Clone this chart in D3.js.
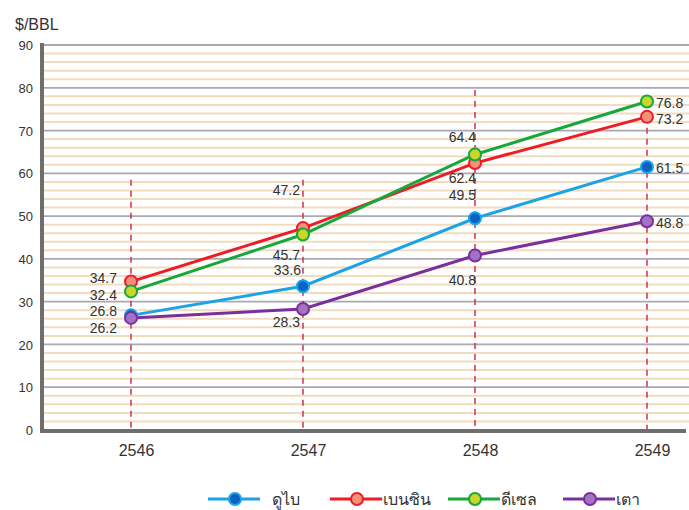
<!DOCTYPE html>
<html>
<head>
<meta charset="utf-8">
<script src="https://cdn.jsdelivr.net/npm/d3@7"></script>
<style>
  html, body { margin: 0; padding: 0; background: #fff; }
  svg { display: block; font-family: "Liberation Sans", Arial, "Noto Sans", sans-serif; }
</style>
</head>
<body>
<svg id="chart" width="689" height="510"></svg>
<script>
// Crude oil and product prices, $/BBL, by Thai fiscal year
const years = ["2546", "2547", "2548", "2549"];
const seriesNames = ["ดูไบ", "เบนซิน", "ดีเซล", "เตา"];
const dubai    = [26.8, 33.6, 49.5, 61.5];
const gasoline = [34.7, 47.2, 62.4, 73.2];
const diesel   = [32.4, 45.7, 64.4, 76.8];
const fuelOil  = [26.2, 28.3, 40.8, 48.8];
const yTicks = [0, 10, 20, 30, 40, 50, 60, 70, 80, 90];
// upper end (in $/BBL) of the dashed guide at each year
const guideTop = [58.5, 58.5, 79.5, 73.2];

const seriesValues = [dubai, gasoline, diesel, fuelOil];
const lineColors   = ["#1aa3e6", "#ee1c25", "#16a83a", "#7b2f9e"];
const markerFills  = ["#0a62c4", "#f2907a", "#c9d62a", "#a472c4"];

// value label offsets [dx, dy, anchor] per series, per year
const labelLayout = [
  [[-14, -4, "end"], [-2, -16, "end"], [1, -23, "end"], [9, 1, "start"]],
  [[-14, -3, "end"], [-3, -38, "end"], [1, 15, "end"], [9, 2, "start"]],
  [[-14, 4, "end"],  [-3, 21, "end"],  [1, -17, "end"], [9, 2, "start"]],
  [[-14, 10, "end"], [-3, 13, "end"],  [1, 25, "end"], [9, 2, "start"]]
];

const svg = d3.select("#chart");
const plotLeft = 42, plotRight = 689, plotTop = 45, plotBottom = 430;

const x = d3.scalePoint().domain(years).range([131, 647]);
const y = d3.scaleLinear().domain([0, 90]).range([plotBottom, plotTop]);

// minor grid every 2 units
const minor = d3.range(2, 90, 2).filter(v => v % 10 !== 0);
svg.append("g").selectAll("line").data(minor).join("line")
  .attr("x1", plotLeft).attr("x2", plotRight)
  .attr("y1", d => y(d)).attr("y2", d => y(d))
  .attr("stroke", "#f1dcbd").attr("stroke-width", 2);

// major grid
svg.append("g").selectAll("line").data(yTicks.filter(v => v > 0)).join("line")
  .attr("x1", plotLeft).attr("x2", plotRight)
  .attr("y1", d => y(d)).attr("y2", d => y(d))
  .attr("stroke", "#a9a9b0").attr("stroke-width", 1.8);

// y axis labels
const yAxis = d3.axisLeft(y).tickValues(yTicks).tickSize(0).tickPadding(0);
const gy = svg.append("g").attr("transform", "translate(33,0)").call(yAxis);
gy.select(".domain").remove();
gy.selectAll("text").attr("font-size", 13).attr("fill", "#333").attr("dy", "0.35em");

// unit title
svg.append("text").attr("x", 15).attr("y", 30)
  .attr("font-size", 16).attr("fill", "#333").text("$/BBL");

// dashed year guides
svg.append("g").selectAll("line").data(years).join("line")
  .attr("x1", d => x(d)).attr("x2", d => x(d))
  .attr("y1", (d, i) => y(guideTop[i])).attr("y2", plotBottom)
  .attr("stroke", "#d0304f").attr("stroke-width", 1.5)
  .attr("stroke-dasharray", "6,5");

// axis frame
svg.append("line").attr("x1", plotLeft).attr("x2", plotLeft).attr("y1", plotTop - 2).attr("y2", plotBottom + 3)
  .attr("stroke", "#6e6e6e").attr("stroke-width", 4);
svg.append("line").attr("x1", plotLeft - 2).attr("x2", 686).attr("y1", plotBottom + 1).attr("y2", plotBottom + 1)
  .attr("stroke", "#6e6e6e").attr("stroke-width", 4);

// x axis labels
const xAxis = d3.axisBottom(x).tickSize(0).tickPadding(0);
const gx = svg.append("g").attr("transform", `translate(5,${plotBottom + 20})`).call(xAxis);
gx.select(".domain").remove();
gx.selectAll("text").attr("font-size", 16).attr("fill", "#333").attr("dy", "0.35em");

// lines
const line = d3.line().x((d, i) => x(years[i])).y(d => y(d));
svg.append("g").selectAll("path").data(seriesValues).join("path")
  .attr("d", d => line(d))
  .attr("fill", "none")
  .attr("stroke", (d, i) => lineColors[i])
  .attr("stroke-width", 3);

// markers and value labels
seriesValues.forEach((vals, s) => {
  const g = svg.append("g");
  g.selectAll("circle").data(vals).join("circle")
    .attr("cx", (d, i) => x(years[i])).attr("cy", d => y(d))
    .attr("r", 6)
    .attr("fill", markerFills[s])
    .attr("stroke", lineColors[s]).attr("stroke-width", 2);
  g.selectAll("text").data(vals).join("text")
    .attr("x", (d, i) => x(years[i]) + labelLayout[s][i][0])
    .attr("y", (d, i) => y(d) + labelLayout[s][i][1])
    .attr("dy", "0.35em")
    .attr("text-anchor", (d, i) => labelLayout[s][i][2])
    .attr("font-size", 14).attr("fill", "#333")
    .text(d => d.toFixed(1));
});

// legend
const legendX = [208, 330, 448, 563];
const legend = svg.append("g");
seriesNames.forEach((name, i) => {
  const lx = legendX[i], ly = 499;
  legend.append("line").attr("x1", lx).attr("x2", lx + 52).attr("y1", ly).attr("y2", ly)
    .attr("stroke", lineColors[i]).attr("stroke-width", 3);
  legend.append("circle").attr("cx", lx + 27).attr("cy", ly).attr("r", 6)
    .attr("fill", markerFills[i]).attr("stroke", lineColors[i]).attr("stroke-width", 2);
  legend.append("text").attr("x", lx + (i === 0 ? 64 : 53)).attr("y", ly).attr("dy", "0.35em")
    .attr("font-size", 16).attr("fill", "#333").text(name);
});
</script>
</body>
</html>
